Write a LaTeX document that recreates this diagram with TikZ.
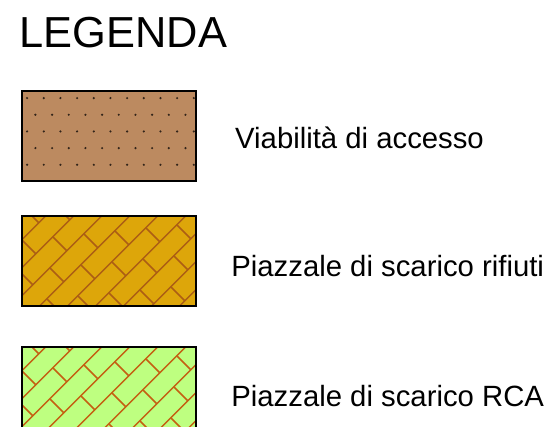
\documentclass[tikz,border=0pt]{standalone}
\usepackage{fontspec}
\setmainfont{Liberation Sans}
\usetikzlibrary{calc}

\definecolor{viafill}{RGB}{188,138,96}
\definecolor{viadot}{RGB}{50,36,26}
\definecolor{rifill}{RGB}{221,166,10}
\definecolor{rihatch}{RGB}{172,94,20}
\definecolor{rcafill}{RGB}{190,255,128}
\definecolor{rcahatch}{RGB}{196,96,18}

\tikzset{
  legbox/.style={rectangle,inner sep=0pt,minimum width=174pt,minimum height=90pt},
  legtext/.style={anchor=base west,inner sep=0pt,font=\fontsize{29.3}{35}\selectfont},
  boxline/.style={draw=black,line width=1.6pt}
}

% brick hatch at 45 degrees inside a box node
\newcommand{\brickhatch}[2]{%
  \begin{scope}
    \clip (#1.south west) rectangle (#1.north east);
    \foreach \k in {0,...,10} {
      \pgfmathsetmacro{\cc}{28*\k-4}
      \draw[#2,line width=1.5pt]
        ($(#1.north west)+({(\cc-100)/2},{(\cc+100)/2})$) -- ($(#1.north west)+({(\cc+220)/2},{(\cc-220)/2})$);
      \foreach \j in {-2,...,3} {
        \pgfmathsetmacro{\uu}{68*\j+34*mod(\k,2)+10}
        \draw[#2,line width=1.5pt]
          ($(#1.north west)+({(\cc+\uu)/2},{(\cc-\uu)/2})$) -- ++(14,14);
      }
    }
  \end{scope}
  \draw[boxline] (#1.south west) rectangle (#1.north east);
}

\begin{document}
\begin{tikzpicture}[x=1pt,y=-1pt]
  \clip (0,0) rectangle (556,427);
  \fill[white] (0,0) rectangle (556,427);

  \node[anchor=base west,inner sep=0pt,font=\fontsize{43.4}{50}\selectfont] (title) at (19.6,47.7) {LEGENDA};

  % viabilita
  \node[legbox,fill=viafill] (via) at (109,136) {};
  \begin{scope}
    \clip (via.south west) rectangle (via.north east);
    \foreach \r in {0,...,4} {
      \pgfmathsetmacro{\xo}{mod(\r,2)*8.33}
      \foreach \j in {0,...,10}
        \fill[viadot] ($(via.north west)+({5.3+\xo+16.67*\j},{7.3+16.67*\r})$) circle (1.2pt);
    }
  \end{scope}
  \draw[boxline] (via.south west) rectangle (via.north east);
  \node[legtext] (vialab) at (235,149) {Viabilità di accesso};

  % piazzale rifiuti
  \node[legbox,fill=rifill] (rif) at (109,261) {};
  \brickhatch{rif}{rihatch}
  \node[legtext] (riflab) at (231.2,276.7) {Piazzale di scarico rifiuti};

  % piazzale RCA
  \node[legbox,fill=rcafill] (rca) at (109,392) {};
  \brickhatch{rca}{rcahatch}
  \node[legtext] (rcalab) at (231.2,406.7) {Piazzale di scarico RCA};
\end{tikzpicture}
\end{document}
